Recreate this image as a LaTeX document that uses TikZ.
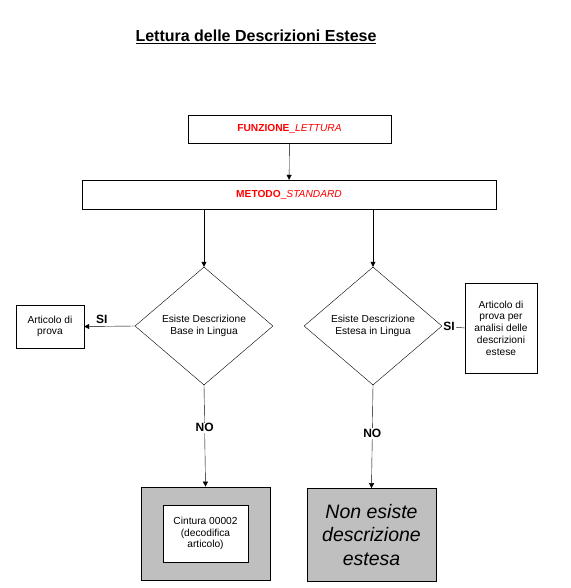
\documentclass[tikz,border=0pt]{standalone}
\usepackage{fontspec}
\setmainfont{Liberation Sans}
\usetikzlibrary{shapes.geometric,arrows.meta}

\begin{document}
\begin{tikzpicture}[x=1pt,y=-1pt]

    \tikzset{boxstyle/.style={draw,rectangle,inner sep=0pt,align=center,font=\fontsize{10.2}{11.7}\selectfont}}
    \tikzset{rombo/.style={draw,shape=diamond,inner sep=0pt,minimum width=138pt,minimum height=118pt,align=center,font=\fontsize{10.2}{11.7}\selectfont}}
    \tikzset{grigio/.style={draw,fill=gray!50,minimum width=129pt,minimum height=93pt,line width=0.8pt}}
    \tikzset{etich/.style={fill=white,inner sep=1pt,font=\bfseries\fontsize{12}{14}\selectfont}}
    \tikzset{freccia/.style={-{Triangle[length=5pt,width=5pt]}}}

    \useasboundingbox (0,0) rectangle (570,588);

    \node[font=\bfseries\fontsize{16}{18}\selectfont] (titolo) at (256,37) {\underline{Lettura delle Descrizioni Estese}};

    \node[boxstyle,minimum width=203pt,minimum height=28pt,text=red] (f1) at (289.5,129) {\textbf{FUNZIONE}\_\textit{LETTURA}};
    \node[boxstyle,minimum width=414pt,minimum height=29pt,text=red] (m1) at (289,194.5) {\textbf{METODO}\_\textit{STANDARD}};

    \node[rombo] (d1) at (204,326) {Esiste Descrizione\\Base in Lingua};
    \node[rombo] (d2) at (373,326) {Esiste Descrizione\\Estesa in Lingua};

    \node[boxstyle,minimum width=68pt,minimum height=43pt] (a1) at (50,326.5) {Articolo di\\prova};
    \node[boxstyle,minimum width=72pt,minimum height=90pt] (a2) at (501,328) {Articolo di\\prova per\\analisi delle\\descrizioni\\estese};

    \node[grigio] (g1) at (205.5,533.5) {};
    \node[boxstyle,fill=white,minimum width=85pt,minimum height=57pt] (c1) at (205.5,533.5) {Cintura 00002\\(decodifica\\articolo)};
    \node[grigio,align=center,font=\itshape\fontsize{19.5}{23.5}\selectfont] (g2) at (371.5,535) {Non esiste\\descrizione\\estesa};

    \coordinate (m1a) at (204,209);
    \coordinate (m1b) at (373,209);

    \begin{scope}[every path/.style={freccia}]
        \draw (f1) -- (m1);
        \draw (m1a) -- (d1.north);
        \draw (m1b) -- (d2.north);
        \draw (d1.west) -- (a1.east) node[etich,pos=0.65,above=2pt,fill=none] {SI};
        \draw (d1.south) -- (g1.north) node[etich,pos=0.42] {NO};
        \draw (d2.south) -- (g2.north) node[etich,pos=0.47] {NO};
    \end{scope}
    \draw (d2.east) -- (a2.west) node[etich,pos=0.3] {SI};

\end{tikzpicture}
\end{document}
